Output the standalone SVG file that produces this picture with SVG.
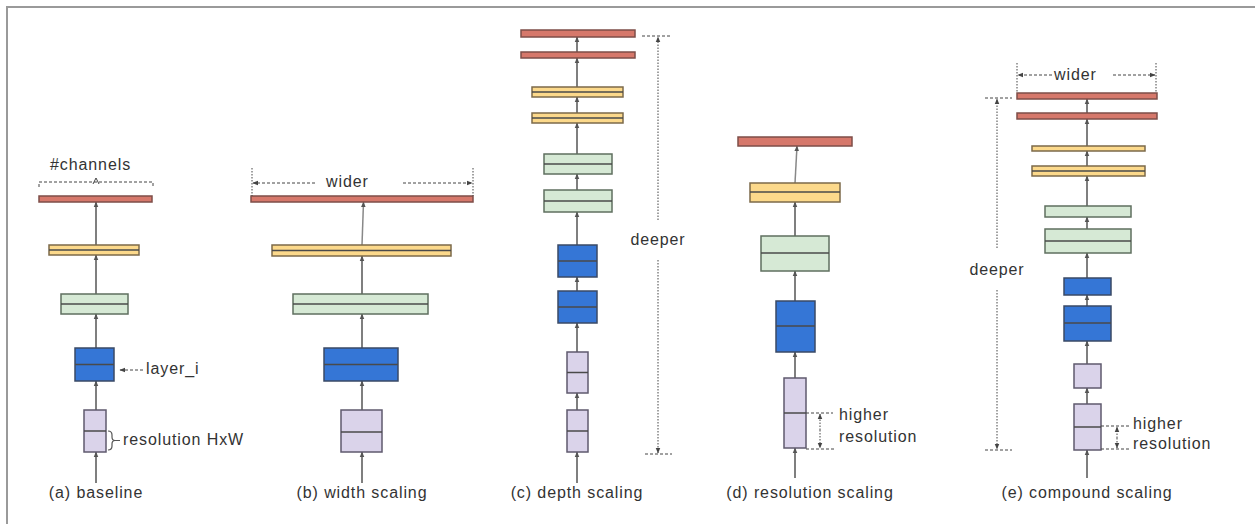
<svg xmlns="http://www.w3.org/2000/svg" width="1255" height="524" viewBox="0 0 1255 524">
<defs>
<marker id="ah" viewBox="0 0 10 10" refX="9" refY="5" markerWidth="6" markerHeight="6" markerUnits="userSpaceOnUse" orient="auto"><path d="M0,1 L10,5 L0,9 z" fill="#555"/></marker>
<marker id="ad" viewBox="0 0 10 10" refX="9" refY="5" markerWidth="6" markerHeight="6" markerUnits="userSpaceOnUse" orient="auto"><path d="M0,1 L10,5 L0,9 z" fill="#444"/></marker>
</defs>
<style>
.red{fill:#d6786b;stroke:#7e4e48;stroke-width:1.5}
.yel{fill:#fcd98b;stroke:#7c6a4a;stroke-width:1.5}
.grn{fill:#d6e9d5;stroke:#5f6f5f;stroke-width:1.5}
.blu{fill:#3576d6;stroke:#3a4a66;stroke-width:1.5}
.lav{fill:#dad3ea;stroke:#5f5a6e;stroke-width:1.5}
.mid{stroke:#4a4a4a;stroke-width:1.5}
.c{stroke:#555;stroke-width:1.5;fill:none;marker-end:url(#ah)}
.cl{stroke:#888;stroke-width:1.5;fill:none;marker-end:url(#ah)}
.d{stroke:#444;stroke-width:1;fill:none;stroke-dasharray:3,2}
.dt{stroke:#444;stroke-width:1;fill:none;stroke-dasharray:1.5,1.5}
.da{stroke:#444;stroke-width:1;fill:none;stroke-dasharray:3,2;marker-end:url(#ad)}
.dta{stroke:#444;stroke-width:1;fill:none;stroke-dasharray:1.5,1.5;marker-end:url(#ad)}
text{font-family:"Liberation Sans",Arial,sans-serif;font-size:16px;fill:#333;letter-spacing:0.9px}
.cap{text-anchor:middle}
</style>
<rect x="7" y="7" width="1260" height="530" fill="#fff" stroke="#9a9a9a" stroke-width="2"/>

<g id="connectors">
<!-- a -->
<line class="c" x1="96" y1="483" x2="96" y2="452"/>
<line class="c" x1="96" y1="410" x2="96" y2="381"/>
<line class="c" x1="96" y1="348" x2="96" y2="314"/>
<line class="c" x1="96" y1="294" x2="96" y2="255"/>
<line class="c" x1="96" y1="245" x2="96" y2="202"/>
<!-- b -->
<line class="c" x1="362" y1="483" x2="362" y2="452"/>
<line class="c" x1="362" y1="410" x2="362" y2="381"/>
<line class="c" x1="362" y1="348" x2="362" y2="314"/>
<line class="c" x1="362" y1="294" x2="362" y2="256"/>
<line class="cl" x1="362" y1="245" x2="363.5" y2="202"/>
<!-- c -->
<line class="c" x1="577" y1="483" x2="577" y2="452"/>
<line class="c" x1="577" y1="410" x2="577" y2="393"/>
<line class="c" x1="577" y1="352" x2="577" y2="323"/>
<line class="c" x1="577" y1="291" x2="577" y2="277"/>
<line class="c" x1="577" y1="245" x2="577" y2="212"/>
<line class="c" x1="577" y1="190" x2="577" y2="174"/>
<line class="c" x1="577" y1="154" x2="577" y2="123"/>
<line class="c" x1="577" y1="113" x2="577" y2="97"/>
<line class="c" x1="577" y1="87" x2="577" y2="58"/>
<line class="c" x1="577" y1="52" x2="577" y2="37"/>
<!-- d -->
<line class="c" x1="795" y1="478" x2="795" y2="448"/>
<line class="c" x1="795" y1="378" x2="795" y2="352"/>
<line class="c" x1="795" y1="301" x2="795" y2="271"/>
<line class="c" x1="795" y1="236" x2="795" y2="202"/>
<line class="cl" x1="795" y1="183" x2="797" y2="146"/>
<!-- e -->
<line class="c" x1="1087" y1="478" x2="1087" y2="450"/>
<line class="c" x1="1087" y1="404" x2="1087" y2="388"/>
<line class="c" x1="1087" y1="364" x2="1087" y2="341"/>
<line class="c" x1="1087" y1="306" x2="1087" y2="295"/>
<line class="c" x1="1087" y1="278" x2="1087" y2="253"/>
<line class="c" x1="1087" y1="229" x2="1087" y2="217"/>
<line class="c" x1="1087" y1="206" x2="1087" y2="176"/>
<line class="c" x1="1087" y1="166" x2="1087" y2="151"/>
<line class="c" x1="1087" y1="146" x2="1087" y2="119"/>
<line class="c" x1="1087" y1="113" x2="1087" y2="99"/>
</g>

<!-- Panel a -->
<g id="a-red"><rect class="red" x="39" y="196" width="113" height="6"/></g>
<g id="a-yellow"><rect class="yel" x="49" y="245" width="90" height="10"/><line class="mid" x1="49" y1="250" x2="139" y2="250"/></g>
<g id="a-green"><rect class="grn" x="61" y="294" width="67" height="20"/><line class="mid" x1="61" y1="304" x2="128" y2="304"/></g>
<g id="a-blue"><rect class="blu" x="75" y="348" width="39" height="33"/><line class="mid" x1="75" y1="364.5" x2="114" y2="364.5"/></g>
<g id="a-lav"><rect class="lav" x="84" y="410" width="22" height="42"/><line class="mid" x1="84" y1="431" x2="106" y2="431"/></g>
<g id="a-annot">
<text x="50" y="170">#channels</text>
<path class="d" d="M39,187 V182 H153 V187"/>
<path d="M93,184 L96,178 L99,184" fill="none" stroke="#444" stroke-width="1"/>
<line class="da" x1="143" y1="370" x2="120" y2="370"/>
<text x="146" y="374">layer_i</text>
<path d="M108,431 Q112,431 112,435 V437 Q112,440.5 115,440.5 Q112,440.5 112,444 V446 Q112,450 108,450 M115,440.5 H120" fill="none" stroke="#555" stroke-width="1.2"/>
<text x="123" y="445">resolution HxW</text>
<text class="cap" x="96" y="498">(a) baseline</text>
</g>

<!-- Panel b -->
<g id="b-red"><rect class="red" x="251" y="196" width="222" height="6"/></g>
<g id="b-yellow"><rect class="yel" x="272" y="245" width="179" height="11"/><line class="mid" x1="272" y1="250.5" x2="451" y2="250.5"/></g>
<g id="b-green"><rect class="grn" x="293" y="294" width="135" height="20"/><line class="mid" x1="293" y1="304" x2="428" y2="304"/></g>
<g id="b-blue"><rect class="blu" x="324" y="348" width="74" height="33"/><line class="mid" x1="324" y1="364.5" x2="398" y2="364.5"/></g>
<g id="b-lav"><rect class="lav" x="341" y="410" width="41" height="42"/><line class="mid" x1="341" y1="432" x2="382" y2="432"/></g>
<g id="b-annot">
<line class="dt" x1="252" y1="168" x2="252" y2="196"/>
<line class="dt" x1="473" y1="168" x2="473" y2="196"/>
<line class="da" x1="315" y1="183" x2="253" y2="183"/>
<line class="da" x1="403" y1="183" x2="472" y2="183"/>
<text x="326" y="187">wider</text>
<text class="cap" x="362" y="498">(b) width scaling</text>
</g>

<!-- Panel c -->
<g id="c-red1"><rect class="red" x="521" y="30" width="114" height="7"/></g>
<g id="c-red2"><rect class="red" x="521" y="52" width="114" height="6"/></g>
<g id="c-yellow1"><rect class="yel" x="532" y="87" width="91" height="10"/><line class="mid" x1="532" y1="92" x2="623" y2="92"/></g>
<g id="c-yellow2"><rect class="yel" x="532" y="113" width="91" height="10"/><line class="mid" x1="532" y1="118" x2="623" y2="118"/></g>
<g id="c-green1"><rect class="grn" x="544" y="154" width="68" height="20"/><line class="mid" x1="544" y1="164" x2="612" y2="164"/></g>
<g id="c-green2"><rect class="grn" x="544" y="190" width="68" height="22"/><line class="mid" x1="544" y1="201" x2="612" y2="201"/></g>
<g id="c-blue1"><rect class="blu" x="558" y="245" width="39" height="32"/><line class="mid" x1="558" y1="261" x2="597" y2="261"/></g>
<g id="c-blue2"><rect class="blu" x="558" y="291" width="39" height="32"/><line class="mid" x1="558" y1="307" x2="597" y2="307"/></g>
<g id="c-lav1"><rect class="lav" x="567" y="352" width="21" height="41"/><line class="mid" x1="567" y1="372.5" x2="588" y2="372.5"/></g>
<g id="c-lav2"><rect class="lav" x="567" y="410" width="21" height="42"/><line class="mid" x1="567" y1="431" x2="588" y2="431"/></g>
<g id="c-annot">
<line class="d" x1="642" y1="36" x2="672" y2="36"/>
<line class="dta" x1="658" y1="220" x2="658" y2="37"/>
<text class="cap" x="658" y="245">deeper</text>
<line class="dta" x1="658" y1="260" x2="658" y2="453"/>
<line class="d" x1="645" y1="454" x2="672" y2="454"/>
<text class="cap" x="577" y="498">(c) depth scaling</text>
</g>

<!-- Panel d -->
<g id="d-red"><rect class="red" x="738" y="137" width="114" height="9"/></g>
<g id="d-yellow"><rect class="yel" x="750" y="183" width="90" height="19"/><line class="mid" x1="750" y1="192" x2="840" y2="192"/></g>
<g id="d-green"><rect class="grn" x="761" y="236" width="68" height="35"/><line class="mid" x1="761" y1="253" x2="829" y2="253"/></g>
<g id="d-blue"><rect class="blu" x="776" y="301" width="39" height="51"/><line class="mid" x1="776" y1="326" x2="815" y2="326"/></g>
<g id="d-lav"><rect class="lav" x="784" y="378" width="22" height="70"/><line class="mid" x1="784" y1="413" x2="806" y2="413"/></g>
<g id="d-annot">
<line class="d" x1="806" y1="413" x2="833" y2="413"/>
<line class="d" x1="806" y1="449" x2="836" y2="449"/>
<line class="dta" x1="820" y1="430" x2="820" y2="414"/>
<line class="dta" x1="820" y1="430" x2="820" y2="448"/>
<text x="839" y="420">higher</text>
<text x="839" y="442">resolution</text>
<text class="cap" x="810" y="498">(d) resolution scaling</text>
</g>

<!-- Panel e -->
<g id="e-red1"><rect class="red" x="1017" y="93" width="140" height="6"/></g>
<g id="e-red2"><rect class="red" x="1017" y="113" width="140" height="6"/></g>
<g id="e-yellow1"><rect class="yel" x="1032" y="146" width="113" height="5"/></g>
<g id="e-yellow2"><rect class="yel" x="1032" y="166" width="113" height="10"/><line class="mid" x1="1032" y1="171" x2="1145" y2="171"/></g>
<g id="e-green1"><rect class="grn" x="1045" y="206" width="86" height="11"/></g>
<g id="e-green2"><rect class="grn" x="1045" y="229" width="86" height="24"/><line class="mid" x1="1045" y1="241" x2="1131" y2="241"/></g>
<g id="e-blue1"><rect class="blu" x="1064" y="278" width="47" height="17"/></g>
<g id="e-blue2"><rect class="blu" x="1064" y="306" width="47" height="35"/><line class="mid" x1="1064" y1="323" x2="1111" y2="323"/></g>
<g id="e-lav1"><rect class="lav" x="1074" y="364" width="27" height="24"/></g>
<g id="e-lav2"><rect class="lav" x="1074" y="404" width="27" height="46"/><line class="mid" x1="1074" y1="427" x2="1101" y2="427"/></g>
<g id="e-annot">
<line class="dt" x1="1017" y1="63" x2="1017" y2="93"/>
<line class="dt" x1="1156" y1="63" x2="1156" y2="93"/>
<line class="da" x1="1052" y1="75" x2="1018" y2="75"/>
<line class="da" x1="1113" y1="75" x2="1155" y2="75"/>
<text x="1054" y="80">wider</text>
<line class="d" x1="985" y1="98" x2="1012" y2="98"/>
<line class="dta" x1="997" y1="248" x2="997" y2="99"/>
<text class="cap" x="997" y="275">deeper</text>
<line class="dta" x1="997" y1="290" x2="997" y2="449"/>
<line class="d" x1="985" y1="450" x2="1012" y2="450"/>
<line class="d" x1="1101" y1="426" x2="1130" y2="426"/>
<line class="d" x1="1101" y1="449" x2="1130" y2="449"/>
<line class="dta" x1="1117" y1="438" x2="1117" y2="427"/>
<line class="dta" x1="1117" y1="438" x2="1117" y2="448"/>
<text x="1133" y="429">higher</text>
<text x="1133" y="449">resolution</text>
<text class="cap" x="1087" y="498">(e) compound scaling</text>
</g>
</svg>
